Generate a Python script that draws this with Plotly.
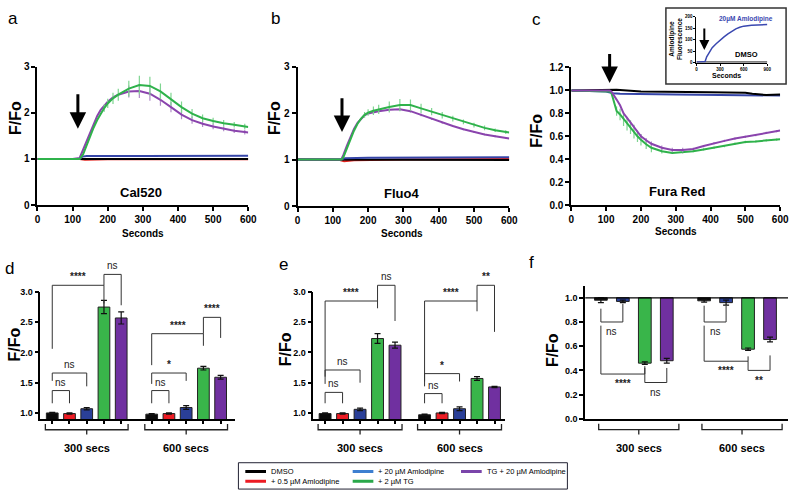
import plotly.graph_objects as go

W, H = 800, 498
FONT = "Liberation Sans, Arial, sans-serif"

# ------------------------------------------------------------------ data
conditions = ["DMSO", "+ 0.5 µM Amlodipine", "+ 20 µM Amlodipine", "+ 2 µM TG", "TG + 20 µM Amlodipine"]
line_colors = ["#000000", "#e3221c", "#3545a8", "#2fb24b", "#8a44ad"]
err_colors = ["#444444", "#f08080", "#6f7fd0", "#7fd591", "#b08cc8"]
bar_colors = ["#0a0a0a", "#ec1c24", "#2a3f98", "#39b54a", "#7030a0"]
legend_colors = ["#000000", "#ec1c24", "#3d7fd0", "#2aa84a", "#7a45aa"]
time_groups = ["300 secs", "600 secs"]

# panel a : Cal520
a_black_t = [0, 600]
a_black = [1.0, 1.0]
a_red_t = [0, 120, 135, 200, 600]
a_red = [1.0, 1.0, 0.98, 0.99, 0.99]
a_blue_t = [0, 120, 128, 140, 300, 600]
a_blue = [1.0, 1.0, 1.05, 1.06, 1.06, 1.07]
a_tg_t = [0, 100, 120, 130, 140, 150, 160, 170, 180, 190, 200, 215, 230, 260, 290, 320, 350, 380, 410, 440, 470, 500, 530, 560, 590, 600]
a_green = [1.0, 1.0, 1.0, 1.1, 1.3, 1.5, 1.68, 1.84, 1.98, 2.1, 2.2, 2.31, 2.39, 2.52, 2.6, 2.58, 2.46, 2.29, 2.12, 1.98, 1.88, 1.82, 1.77, 1.74, 1.7, 1.69]
a_green_err = [0, 0, 0, 0, 0, 0, 0, 0, 0, 0.08, 0.1, 0.12, 0.13, 0.17, 0.2, 0.2, 0.17, 0.14, 0.12, 0.1, 0.08, 0.07, 0.07, 0.06, 0.06, 0]
a_purple = [1.0, 1.0, 1.02, 1.2, 1.4, 1.6, 1.78, 1.93, 2.06, 2.16, 2.24, 2.33, 2.39, 2.46, 2.47, 2.41, 2.28, 2.12, 1.96, 1.84, 1.76, 1.7, 1.65, 1.61, 1.58, 1.57]
a_purple_err = [0, 0, 0, 0, 0, 0, 0, 0, 0, 0, 0, 0, 0, 0.13, 0.15, 0.15, 0.13, 0.11, 0.1, 0.08, 0.07, 0.06, 0.05, 0.05, 0.05, 0]

# panel b : Fluo4
b_black_t = [0, 600]
b_black = [1.0, 0.99]
b_red_t = [0, 120, 132, 160, 300, 600]
b_red = [1.0, 0.99, 0.965, 0.985, 1.0, 1.01]
b_blue_t = [0, 125, 135, 200, 600]
b_blue = [1.0, 1.0, 1.03, 1.04, 1.05]
b_tg_t = [0, 100, 120, 125, 130, 140, 150, 160, 170, 180, 190, 200, 215, 230, 260, 290, 320, 350, 380, 410, 440, 470, 500, 530, 560, 590, 600]
b_green = [1.0, 1.0, 1.0, 1.0, 1.05, 1.25, 1.45, 1.62, 1.77, 1.88, 1.96, 2.01, 2.05, 2.08, 2.13, 2.17, 2.17, 2.1, 2.03, 1.95, 1.88, 1.81, 1.74, 1.68, 1.63, 1.59, 1.58]
b_green_err = [0, 0, 0, 0, 0, 0, 0, 0, 0, 0, 0.06, 0.07, 0.09, 0.1, 0.12, 0.13, 0.12, 0.1, 0.08, 0.07, 0.06, 0.05, 0.05, 0.05, 0.04, 0.04, 0]
b_purple = [1.0, 1.0, 1.0, 1.02, 1.1, 1.3, 1.5, 1.66, 1.79, 1.88, 1.95, 1.99, 2.02, 2.04, 2.07, 2.08, 2.04, 1.96, 1.87, 1.79, 1.72, 1.65, 1.59, 1.54, 1.5, 1.46, 1.45]
b_purple_err = [0, 0, 0, 0, 0, 0, 0, 0, 0, 0, 0, 0, 0, 0, 0.03, 0.03, 0.03, 0.03, 0.02, 0.02, 0.02, 0.02, 0.02, 0.02, 0.02, 0.02, 0]

# panel c : Fura Red
c_black_t = [0, 100, 130, 200, 300, 400, 500, 520, 560, 580, 600]
c_black = [1.0, 1.0, 1.005, 0.99, 0.99, 0.985, 0.98, 0.97, 0.96, 0.965, 0.965]
c_blue_t = [0, 100, 120, 140, 300, 500, 600]
c_blue = [1.0, 0.99, 0.975, 0.97, 0.965, 0.96, 0.955]
c_tg_t = [0, 100, 110, 115, 120, 130, 140, 150, 160, 170, 180, 190, 200, 215, 230, 260, 290, 320, 350, 380, 410, 440, 470, 500, 530, 560, 590, 600]
c_green = [1.0, 0.99, 0.99, 0.98, 0.93, 0.82, 0.79, 0.75, 0.71, 0.68, 0.64, 0.6, 0.57, 0.53, 0.5, 0.47, 0.455, 0.46, 0.47, 0.485, 0.5, 0.515, 0.535, 0.55, 0.555, 0.565, 0.57, 0.575]
c_green_err = [0, 0, 0, 0, 0, 0.04, 0.05, 0.06, 0.06, 0.06, 0.06, 0.05, 0.05, 0.04, 0.04, 0.02, 0.01, 0.01, 0.01, 0.01, 0.01, 0.01, 0.01, 0.01, 0.01, 0.01, 0.01, 0]
c_purple = [1.0, 1.0, 1.0, 0.99, 0.97, 0.92, 0.87, 0.8, 0.76, 0.72, 0.68, 0.64, 0.6, 0.565, 0.535, 0.5, 0.48, 0.48, 0.49, 0.515, 0.54, 0.56, 0.58, 0.595, 0.61, 0.63, 0.645, 0.65]
c_purple_err = [0, 0, 0, 0, 0, 0, 0, 0, 0, 0, 0, 0, 0.02, 0.02, 0.02, 0.02, 0.02, 0.02, 0.01, 0.01, 0.01, 0.01, 0.01, 0.01, 0.01, 0.01, 0.01, 0]

# inset of c : amlodipine autofluorescence
ins_t = [0, 100, 110, 130, 160, 200, 250, 300, 350, 400, 450, 500, 550, 600, 700, 800, 900]
ins_amlo = [2, 2, 5, 25, 45, 65, 82, 98, 112, 125, 137, 147, 154, 159, 163, 165, 166]
ins_dmso_t = [0, 900]
ins_dmso = [2, 2]

# bar panels (order of conditions)
d_300 = [1.0, 0.99, 1.07, 2.75, 2.57]
d_300_err = [0.01, 0.01, 0.02, 0.11, 0.1]
d_600 = [0.98, 0.99, 1.09, 1.74, 1.59]
d_600_err = [0.01, 0.01, 0.03, 0.03, 0.03]
e_300 = [0.99, 0.99, 1.06, 2.23, 2.12]
e_300_err = [0.01, 0.01, 0.02, 0.08, 0.05]
e_600 = [0.97, 1.0, 1.07, 1.57, 1.43]
e_600_err = [0.01, 0.01, 0.03, 0.03, 0.01]
f_conditions = [0, 2, 3, 4]
f_300 = [0.98, 0.97, 0.46, 0.48]
f_300_err = [0.02, 0.01, 0.01, 0.02]
f_600 = [0.975, 0.96, 0.575, 0.655]
f_600_err = [0.01, 0.02, 0.01, 0.02]

# significance brackets: (group, left bar, y left, right bar, y right, y bar, label)
d_sig = [(0, 0, 2.06, 3, 2.81, 3.11, "****"), (0, 3, 3.11, 4, 2.78, 3.29, "ns"),
         (0, 0, 1.53, 2, 1.44, 1.66, "ns"), (0, 0, 1.16, 1, 1.16, 1.37, "ns"),
         (1, 0, 1.79, 3, 2.11, 2.31, "****"), (1, 3, 2.31, 4, 2.24, 2.58, "****"),
         (1, 0, 1.48, 2, 1.53, 1.66, "*"), (1, 0, 1.16, 1, 1.16, 1.37, "ns")]
e_sig = [(0, 0, 1.48, 3, 2.73, 2.85, "****"), (0, 3, 2.85, 4, 2.52, 3.11, "ns"),
         (0, 0, 1.6, 2, 1.5, 1.71, "ns"), (0, 0, 1.16, 1, 1.16, 1.34, "ns"),
         (1, 0, 1.44, 3, 2.68, 2.85, "****"), (1, 3, 2.85, 4, 2.34, 3.11, "**"),
         (1, 0, 1.52, 2, 1.52, 1.65, "*"), (1, 0, 1.16, 1, 1.16, 1.32, "ns")]
f_sig = [(0, 0, 0.91, 1, 0.95, 0.8, "ns"), (0, 0, 0.77, 2, 0.435, 0.37, "****"),
         (0, 2, 0.42, 3, 0.42, 0.3, "ns"),
         (1, 0, 0.935, 1, 0.935, 0.8, "ns"), (1, 0, 0.77, 2, 0.516, 0.476, "****"),
         (1, 2, 0.476, 3, 0.524, 0.4, "**")]

# ------------------------------------------------------------------ layout geometry (pixels)
AX = {
    "a": dict(n="", xd=(35, 249), yd=(62, 204), xr=[0, 600], yr=[0, 3]),
    "b": dict(n="2", xd=(299, 514), yd=(62, 205), xr=[0, 600], yr=[0, 3]),
    "c": dict(n="3", xd=(577, 789), yd=(63, 204), xr=[0, 600], yr=[0, 1.2]),
    "d": dict(n="4", xd=(38, 236), yd=(293, 423.2), xr=[-0.686, 10.63], yr=[0.9, 3.0]),
    "e": dict(n="5", xd=(315, 510), yd=(293, 423.2), xr=[-0.676, 10.31], yr=[0.9, 3.0]),
    "f": dict(n="6", xd=(591, 797), yd=(286.6, 423), xr=[-0.717, 8.52], yr=[0, 1.1]),
    "i": dict(n="7", xd=(704, 776), yd=(11, 58), xr=[0, 900], yr=[0, 200]),
}
GROUP_OFFSET = {"d": 5.77, "e": 5.69, "f": 4.7}


def px(x):
    return x / W


def py(y):
    return 1 - y / H


def to_paper(k, x, y):
    s = AX[k]
    x0, x1 = s["xd"]
    yt, yb = s["yd"]
    xr, yr = s["xr"], s["yr"]
    X = x0 + (x - xr[0]) / (xr[1] - xr[0]) * (x1 - x0)
    Y = yb - (y - yr[0]) / (yr[1] - yr[0]) * (yb - yt)
    return px(X), py(Y)


def refs(k):
    n = AX[k]["n"]
    return "x" + n, "y" + n


fig = go.Figure()


def add_line(k, t, v, ci, err=None):
    xr_, yr_ = refs(k)
    tr = dict(x=t, y=v, mode="lines", line=dict(color=line_colors[ci], width=2),
              xaxis=xr_, yaxis=yr_, showlegend=False, hoverinfo="skip")
    if err is not None:
        tr["error_y"] = dict(type="data", array=err, visible=True, thickness=1.2,
                             width=0, color=err_colors[ci])
    fig.add_trace(go.Scatter(**tr))


add_line("a", a_red_t, a_red, 1)
add_line("a", a_black_t, a_black, 0)
add_line("a", a_blue_t, a_blue, 2)
add_line("a", a_tg_t, a_purple, 4, a_purple_err)
add_line("a", a_tg_t, a_green, 3, a_green_err)

add_line("b", b_red_t, b_red, 1)
add_line("b", b_black_t, b_black, 0)
add_line("b", b_blue_t, b_blue, 2)
add_line("b", b_tg_t, b_purple, 4, b_purple_err)
add_line("b", b_tg_t, b_green, 3, b_green_err)

add_line("c", c_blue_t, c_blue, 2)
add_line("c", c_black_t, c_black, 0)
add_line("c", c_tg_t, c_green, 3, c_green_err)
add_line("c", c_tg_t, c_purple, 4, c_purple_err)

# inset
fig.add_trace(go.Scatter(x=ins_dmso_t, y=ins_dmso, mode="lines", line=dict(color="#000000", width=1.3),
                         xaxis="x7", yaxis="y7", showlegend=False, hoverinfo="skip"))
fig.add_trace(go.Scatter(x=ins_t, y=ins_amlo, mode="lines", line=dict(color="#3a48b0", width=1.5),
                         xaxis="x7", yaxis="y7", showlegend=False, hoverinfo="skip"))


# bars
def add_bars(k, conds, v300, e300, v600, e600, width, hanging=False):
    xr_, yr_ = refs(k)
    off = GROUP_OFFSET[k]
    for j, ci in enumerate(conds):
        xs = [j, j + off]
        if hanging:
            ys = [v300[j] - 1.0, v600[j] - 1.0]
            base = [1.0, 1.0]
        else:
            ys = [v300[j], v600[j]]
            base = None
        fig.add_trace(go.Bar(x=xs, y=ys, base=base, width=width, marker=dict(color=bar_colors[ci], line=dict(color="#222222", width=1)),
                             error_y=dict(type="data", array=[e300[j], e600[j]], visible=True, color="#111111", thickness=1.2, width=3),
                             xaxis=xr_, yaxis=yr_, showlegend=False, hoverinfo="skip"))


add_bars("d", [0, 1, 2, 3, 4], d_300, d_300_err, d_600, d_600_err, 0.68)
add_bars("e", [0, 1, 2, 3, 4], e_300, e_300_err, e_600, e_600_err, 0.68)
add_bars("f", f_conditions, f_300, f_300_err, f_600, f_600_err, 0.58, hanging=True)

# ------------------------------------------------------------------ axes
tickfont = dict(family=FONT, size=10, color="black", weight="bold")
layout_axes = {}


def axis_common(lw=2, tl=4, tf=tickfont):
    return dict(showline=True, linecolor="black", linewidth=lw, ticks="outside", ticklen=tl, tickwidth=lw,
                tickcolor="black", showgrid=False, zeroline=False, tickfont=tf, fixedrange=True)


for k, s in AX.items():
    n = s["n"]
    xa = axis_common()
    ya = axis_common()
    xa.update(domain=[px(s["xd"][0]), px(s["xd"][1])], range=s["xr"], anchor="y" + n)
    ya.update(domain=[py(s["yd"][1]), py(s["yd"][0])], range=s["yr"], anchor="x" + n)
    if k in ("a", "b", "c"):
        xa.update(tickvals=[0, 100, 200, 300, 400, 500, 600])
        if k == "c":
            ya.update(tickvals=[0, 0.2, 0.4, 0.6, 0.8, 1.0, 1.2], tickformat=".1f")
        else:
            ya.update(tickvals=[0, 1, 2, 3])
    elif k in ("d", "e"):
        off = GROUP_OFFSET[k]
        xa.update(tickvals=[0, 1, 2, 3, 4, off, off + 1, off + 2, off + 3, off + 4], showticklabels=False, ticklen=3, tickwidth=1.5)
        ya.update(tickvals=[1.0, 1.5, 2.0, 2.5, 3.0], tickformat=".1f", tickfont=dict(family=FONT, size=9, color="black", weight="bold"), linewidth=1.5, tickwidth=1.5)
        xa.update(linewidth=1.5)
    elif k == "f":
        xa.update(ticks="", showticklabels=False, linewidth=1.5)
        ya.update(tickvals=[0, 0.2, 0.4, 0.6, 0.8, 1.0], tickformat=".1f", tickfont=dict(family=FONT, size=9, color="black", weight="bold"), linewidth=1.5, tickwidth=1.5)
    elif k == "i":
        small = dict(family=FONT, size=4.5, color="black", weight="bold")
        xa = axis_common(lw=1, tl=2, tf=small)
        ya = axis_common(lw=1, tl=2, tf=small)
        xa.update(domain=[px(s["xd"][0]), px(s["xd"][1])], range=s["xr"], anchor="y" + n, tickvals=[0, 300, 600, 900])
        ya.update(domain=[py(s["yd"][1]), py(s["yd"][0])], range=s["yr"], anchor="x" + n, tickvals=[0, 50, 100, 150, 200])
    layout_axes["xaxis" + n] = xa
    layout_axes["yaxis" + n] = ya

shapes = []
annotations = []


def ann(x, y, text, size=10, bold=False, color="black", angle=0, xanchor="center", yanchor="middle", xref="paper", yref="paper"):
    annotations.append(dict(x=x, y=y, xref=xref, yref=yref, text=text, showarrow=False, textangle=angle,
                            xanchor=xanchor, yanchor=yanchor,
                            font=dict(family=FONT, size=size, color=color, weight="bold" if bold else "normal")))


# horizontal baseline at 1.0 in f
shapes.append(dict(type="line", xref="x6", yref="y6", x0=AX["f"]["xr"][0], x1=AX["f"]["xr"][1], y0=1.0, y1=1.0,
                   line=dict(color="black", width=1.2)))

# significance brackets
for k, sig in (("d", d_sig), ("e", e_sig), ("f", f_sig)):
    off = GROUP_OFFSET[k]
    for g, i1, y1, i2, y2, yb, lab in sig:
        xa_, xb_ = i1 + g * off, i2 + g * off
        p1 = to_paper(k, xa_, y1)
        p2 = to_paper(k, xa_, yb)
        p3 = to_paper(k, xb_, yb)
        p4 = to_paper(k, xb_, y2)
        path = "M %f,%f L %f,%f L %f,%f L %f,%f" % (p1 + p2 + p3 + p4)
        shapes.append(dict(type="path", xref="paper", yref="paper", path=path, line=dict(color="#333333", width=1)))
        mx = (p2[0] + p3[0]) / 2
        star = lab.startswith("*")
        if k == "f":
            ann(mx, p2[1] - 10 / H, lab, size=10, bold=star, color="#222222", yanchor="middle")
        else:
            ann(mx, p2[1] + (1 / H), lab, size=10, bold=star, color="#222222", yanchor="bottom")

# group braces + labels below x axis
brace_span = {"d": (-0.4, 4.4), "e": (-0.4, 4.4), "f": (-0.1, 3.55)}
for k in ("d", "e", "f"):
    off = GROUP_OFFSET[k]
    ybot = AX[k]["yd"][1]
    for g, name in enumerate(time_groups):
        l, r = brace_span[k]
        xl, _ = to_paper(k, l + g * off, AX[k]["yr"][0])
        xr2, _ = to_paper(k, r + g * off, AX[k]["yr"][0])
        xc = (xl + xr2) / 2
        y0, y1, y2 = py(ybot + 5), py(ybot + 11), py(ybot + 16)
        path = "M %f,%f L %f,%f L %f,%f L %f,%f M %f,%f L %f,%f" % (xl, y0, xl, y1, xr2, y1, xr2, y0, xc, y1, xc, y2)
        shapes.append(dict(type="path", xref="paper", yref="paper", path=path, line=dict(color="#222222", width=1.3)))
        ann(xc, py(ybot + 30), name, size=11, bold=True)

# panel letters
for t, x, y in (("a", 10, 13), ("b", 277, 13), ("c", 542, 14), ("d", 7, 269), ("e", 285, 265), ("f", 537, 263)):
    ann(px(x), py(y), t, size=17)

# axis titles / panel titles
for x, y in ((12, 115), (275, 115), (542, 128), (12, 347), (287, 352), (558, 353)):
    ann(px(x), py(y), "F/Fo", size=16, bold=True, angle=-90)
for x, y in ((142, 233), (405, 233), (683, 231)):
    ann(px(x), py(y), "Seconds", size=10, bold=True)
for t, x, y in (("Cal520", 140, 191), ("Fluo4", 405, 192), ("Fura Red", 684, 190)):
    ann(px(x), py(y), t, size=13, bold=True)

# arrows (addition)
for k, t, ytip, ytail in (("a", 115, 1.65, 2.43), ("b", 126, 1.59, 2.35), ("c", 110, 1.064, 1.33)):
    xr_, yr_ = refs(k)
    annotations.append(dict(x=t, y=ytip, ax=t, ay=ytail, xref=xr_, yref=yr_, axref=xr_, ayref=yr_, text="",
                            showarrow=True, arrowhead=2, arrowsize=1.1, arrowwidth=3, arrowcolor="black"))
annotations.append(dict(x=100, y=55, ax=100, ay=155, xref="x7", yref="y7", axref="x7", ayref="y7", text="",
                        showarrow=True, arrowhead=2, arrowsize=1, arrowwidth=2, arrowcolor="black"))

# inset decorations
shapes.append(dict(type="rect", xref="paper", yref="paper", x0=px(673), x1=px(795), y0=py(80), y1=py(2),
                   line=dict(color="#333333", width=1.5)))
ann(px(754), py(13), "20µM Amlodipine", size=6.5, bold=True, color="#3a48b0")
ann(px(755), py(50), "DMSO", size=7.5, bold=True)
ann(px(735), py(71), "Seconds", size=7, bold=True)
ann(px(682), py(34), "Amlodipine<br>Fluorescence", size=6.5, bold=True, angle=-90)

# legend (manual)
shapes.append(dict(type="rect", xref="paper", yref="paper", x0=px(239), x1=px(573), y0=py(495), y1=py(468),
                   line=dict(color="#222233", width=1)))
leg_pos = [(246, 477), (246, 487), (355, 477), (355, 487), (465, 477)]
for ci, (lx, ly) in enumerate(leg_pos):
    shapes.append(dict(type="line", xref="paper", yref="paper", x0=px(lx), x1=px(lx + 21), y0=py(ly), y1=py(ly),
                       line=dict(color=legend_colors[ci], width=3)))
    ann(px(lx + 24), py(ly), conditions[ci], size=7.5, xanchor="left")

fig.update_layout(width=W, height=H, margin=dict(l=0, r=0, t=0, b=0), paper_bgcolor="white", plot_bgcolor="rgba(0,0,0,0)",
                  barmode="overlay", showlegend=False, shapes=shapes, annotations=annotations,
                  font=dict(family=FONT, color="black"), **layout_axes)

fig.write_html("out.html")
